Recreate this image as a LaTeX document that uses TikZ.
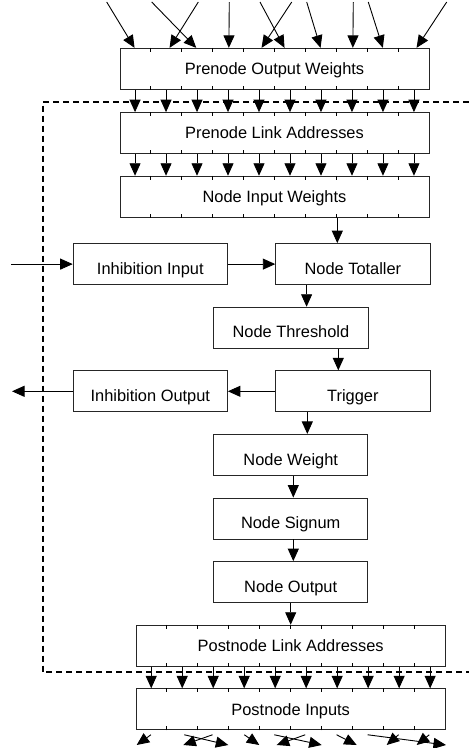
\documentclass[tikz,border=0pt]{standalone}
\usepackage{fontspec}
\setmainfont{Liberation Sans}
\usetikzlibrary{positioning,arrows.meta,calc}
\tikzset{
    neuronbox/.style={draw=black!85, line width=0.9pt, minimum width=154.3pt, minimum height=41pt, inner sep=0pt, text height=20.5pt, text depth=0pt, font=\fontsize{16.4}{19}\selectfont},
    neuronwide/.style={neuronbox, minimum width=309pt, text height=11.7pt},
    neuronarrow/.style={draw, line width=0.9pt, -{Triangle[length=12.5pt, width=11pt]}},
    neurontick/.style={draw, line width=0.8pt},
    neuronbound/.style={draw, line width=1.8pt, dash pattern=on 6pt off 4pt}
}

\begin{document}
\begin{tikzpicture}[x=1pt, y=1pt, node distance=21.7pt]
    \useasboundingbox (0,0) rectangle (469,-748);
    \node[neuronwide] (pow) at (274.5,-68.8) {Prenode Output Weights};
    \node[neuronwide, below=22.4pt of pow] (pla) {Prenode Link Addresses};
    \node[neuronwide, below=of pla] (niw) {Node Input Weights};
    \node[neuronbox, below=25.5pt of niw, xshift=78.4pt] (tot) {Node Totaller};
    \node[neuronbox, left=47.4pt of tot] (inhin) {Inhibition Input};
    \node[neuronbox, below=of tot, xshift=-62pt] (thr) {Node Threshold};
    \node[neuronbox, below=of thr, xshift=62pt] (trig) {Trigger};
    \node[neuronbox, left=47.4pt of trig] (inhout) {Inhibition Output};
    \node[neuronbox, below=of trig, xshift=-62.2pt] (nwt) {Node Weight};
    \node[neuronbox, below=of nwt] (nsg) {Node Signum};
    \node[neuronbox, below=of nsg] (nout) {Node Output};
    \node[neuronwide, below=of nout] (pola) {Postnode Link Addresses};
    \node[neuronwide, below=of pola] (pin) {Postnode Inputs};
    % address ticks
    \foreach \n in {pow,pla,niw,pola,pin}
        \foreach \k in {1,...,9} {
            \draw[neurontick] ($(\n.north west)!\k/10!(\n.north east)$) -- ++(0,-4);
            \draw[neurontick] ($(\n.south west)!\k/10!(\n.south east)$) -- ++(0,4);
        }
    % incoming links
    \foreach \sx/\tx in {106.7/15,198.3/50,151.7/76.7,229.3/109.3,291.7/142,260/165,306.7/201,353.3/233.3,368.3/263.3,446.7/297}
        \draw[neuronarrow] (\sx,-2) -- ([xshift=\tx pt]pow.north west);
    \foreach \k [evaluate=\k as \f using (\k+0.5)/10] in {0,...,9} {
        \draw[neuronarrow] ($(pow.south west)!\f!(pow.south east)$) -- ($(pla.north west)!\f!(pla.north east)$);
        \draw[neuronarrow] ($(pla.south west)!\f!(pla.south east)$) -- ($(niw.north west)!\f!(niw.north east)$);
        \draw[neuronarrow] ($(pola.south west)!\f!(pola.south east)$) -- ($(pin.north west)!\f!(pin.north east)$);
    }
    % node flow
    \draw[neuronarrow] ([xshift=-15.6pt]niw.south -| tot.north) -- ([xshift=-15.6pt]tot.north);
    \draw[neuronarrow] ([xshift=15.7pt]tot.south -| thr.north) -- ([xshift=15.7pt]thr.north);
    \draw[neuronarrow] ([xshift=-14.6pt]thr.south -| trig.north) -- ([xshift=-14.6pt]trig.north);
    \draw[neuronarrow] ([xshift=16.6pt]trig.south -| nwt.north) -- ([xshift=16.6pt]nwt.north);
    \draw[neuronarrow] ([xshift=2.6pt]nwt.south) -- ([xshift=2.6pt]nsg.north);
    \draw[neuronarrow] ([xshift=2.6pt]nsg.south) -- ([xshift=2.6pt]nout.north);
    \draw[neuronarrow] (nout) -- (pola);
    \draw[neuronarrow] ([xshift=-61.3pt]inhin.west) -- (inhin);
    \draw[neuronarrow] (inhin) -- (tot);
    \draw[neuronarrow] (trig) -- (inhout);
    \draw[neuronarrow] (inhout) -- ([xshift=-60.7pt]inhout.west);
    % outgoing links
    \foreach \sx/\ex in {15.2/136.7,48.5/228.3,76.8/183.3,108.5/259.3,138.5/321.7,169.5/276.7,200.8/356.7,231.8/446,262.8/386.7,293.5/416.7}
        \draw[neuronarrow] ([xshift=\sx pt, yshift=-4.5pt]pin.south west) -- (\ex,-745);
    \draw[neuronbound] (469,-102) -| (42.7,-672) -- (469,-672);
\end{tikzpicture}
\end{document}
